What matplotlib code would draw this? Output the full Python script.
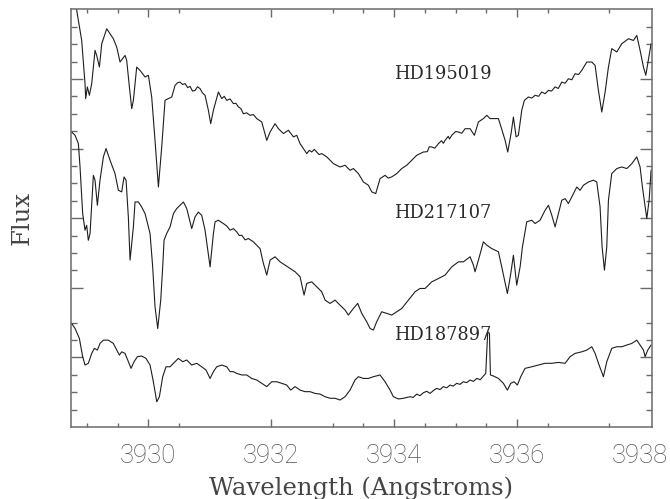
import matplotlib
matplotlib.use("Agg")
import matplotlib.pyplot as plt

# ---- data (wavelength in Angstroms, flux in arbitrary offset units) ----
hd195019_wave = [3928.791, 3928.835, 3928.916, 3928.970, 3928.981, 3929.008, 3929.041, 3929.079,
                 3929.133, 3929.160, 3929.204, 3929.242, 3929.323, 3929.431, 3929.486, 3929.540,
                 3929.621, 3929.648, 3929.692, 3929.730, 3929.757, 3929.811, 3929.865, 3929.947,
                 3930.001, 3930.055, 3930.109, 3930.164, 3930.218, 3930.272, 3930.326, 3930.381,
                 3930.435, 3930.476, 3930.516, 3930.557, 3930.598, 3930.640, 3930.679, 3930.720,
                 3930.760, 3930.800, 3930.842, 3930.880, 3930.923, 3930.977,
                 3931.015, 3931.059, 3931.140, 3931.194, 3931.235, 3931.276, 3931.330, 3931.384,
                 3931.425, 3931.466, 3931.505, 3931.547, 3931.600,
                 3931.655, 3931.710, 3931.764, 3931.845, 3931.927, 3931.981, 3932.062, 3932.117, 3932.198,
                 3932.279, 3932.361, 3932.415, 3932.469, 3932.578, 3932.620, 3932.659, 3932.700, 3932.740,
                 3932.780, 3932.822,
                 3932.903, 3933.012, 3933.119, 3933.201, 3933.282, 3933.336, 3933.418, 3933.499,
                 3933.580, 3933.635, 3933.700, 3933.770, 3933.852, 3933.905, 3933.960, 3934.042, 3934.123,
                 3934.204, 3934.286, 3934.367, 3934.475, 3934.540, 3934.570, 3934.611, 3934.660,
                 3934.720, 3934.770, 3934.800, 3934.828, 3934.880, 3934.900, 3934.937,
                 3935.000, 3935.045, 3935.100, 3935.154, 3935.235, 3935.305, 3935.371, 3935.452, 3935.506,
                 3935.560, 3935.642, 3935.696, 3935.739, 3935.805, 3935.848, 3935.902, 3935.940, 3935.984,
                 3936.021, 3936.076, 3936.119, 3936.184, 3936.240, 3936.293, 3936.350, 3936.401, 3936.455,
                 3936.510, 3936.560, 3936.618, 3936.670,
                 3936.727, 3936.780, 3936.835, 3936.890, 3936.944, 3937.000, 3937.052, 3937.134, 3937.215,
                 3937.269, 3937.323,
                 3937.378, 3937.432, 3937.486, 3937.540, 3937.622, 3937.703, 3937.812, 3937.893,
                 3937.947, 3938.001, 3938.056, 3938.094, 3938.148, 3938.180]
hd195019_flux = [24.70, 23.94, 22.21, 19.73, 18.87, 19.54, 19.06, 19.73,
                 21.64, 21.35, 20.68, 22.02, 22.88, 22.31, 21.83, 20.97,
                 21.35, 21.07, 19.54, 18.29, 18.77, 20.68, 20.49, 20.11,
                 20.21, 18.96, 16.47, 13.79, 16.09, 18.77, 18.87, 18.96,
                 19.63, 19.78, 19.82, 19.68, 19.73, 19.50, 19.57, 19.30,
                 19.34, 19.55, 19.44, 19.20, 19.06, 18.20,
                 17.43, 18.20, 19.25, 18.87, 19.00, 18.77, 18.85, 18.58,
                 18.60, 18.39, 18.30, 18.00, 18.05,
                 17.91, 17.95, 17.72, 17.53, 16.47, 16.95, 17.43, 17.14, 16.86,
                 17.05, 16.67, 16.76, 16.28, 15.71, 15.90, 15.80, 15.95, 15.80,
                 15.65, 15.71,
                 15.52, 15.13, 14.94, 15.04, 14.75, 14.85, 14.56, 14.08,
                 13.89, 13.51, 13.41, 14.27, 14.46, 14.30, 14.37, 14.56, 14.85,
                 15.04, 15.33, 15.61, 15.80, 15.82, 16.10, 16.09, 16.02,
                 16.28, 16.45, 16.30, 16.47, 16.70, 16.55, 16.76,
                 16.98, 16.95, 16.88, 17.14, 17.14, 16.76, 17.53, 17.72, 17.91,
                 17.72, 17.72, 17.72, 17.24, 16.47, 15.80, 16.86, 17.81, 16.67,
                 16.76, 18.20, 18.77, 18.96, 18.90, 19.06, 19.00, 19.25, 19.15,
                 19.34, 19.30, 19.54, 19.45,
                 19.82, 19.75, 20.01, 19.95, 20.30, 20.25, 20.49, 20.97, 20.97,
                 20.78, 19.34,
                 18.10, 19.25, 20.68, 21.74, 21.55, 22.02, 22.31, 22.21,
                 22.50, 21.64, 20.68, 20.21, 21.35, 22.02]

hd217107_wave = [3928.753, 3928.808, 3928.862, 3928.889, 3928.932, 3928.970, 3928.997, 3929.024,
                 3929.052, 3929.106, 3929.133, 3929.171, 3929.214, 3929.269, 3929.312, 3929.377,
                 3929.458, 3929.513, 3929.567, 3929.605, 3929.638, 3929.675, 3929.703, 3929.757,
                 3929.784, 3929.838, 3929.892, 3929.947, 3930.028, 3930.071, 3930.109, 3930.153,
                 3930.202, 3930.234, 3930.256, 3930.299, 3930.354, 3930.408, 3930.462, 3930.571,
                 3930.625, 3930.706, 3930.760, 3930.814, 3930.869, 3930.923, 3930.961, 3931.005,
                 3931.059, 3931.086, 3931.140, 3931.221, 3931.275, 3931.330, 3931.385, 3931.438,
                 3931.480, 3931.520, 3931.575, 3931.628,
                 3931.709, 3931.818, 3931.872, 3931.927, 3931.981, 3932.062, 3932.144, 3932.225,
                 3932.306, 3932.388, 3932.469, 3932.534, 3932.578, 3932.659, 3932.740, 3932.822,
                 3932.876, 3932.957, 3933.039, 3933.119, 3933.201, 3933.255, 3933.336, 3933.407,
                 3933.472, 3933.553, 3933.608, 3933.662, 3933.716, 3933.797, 3933.879, 3933.960,
                 3934.042, 3934.123, 3934.231, 3934.340, 3934.421, 3934.503, 3934.611, 3934.720,
                 3934.828, 3934.937, 3935.045, 3935.126, 3935.235, 3935.289, 3935.316, 3935.371,
                 3935.452, 3935.506, 3935.588, 3935.696, 3935.750, 3935.842, 3935.897, 3935.940,
                 3935.994, 3936.049, 3936.087, 3936.157, 3936.238, 3936.293, 3936.374, 3936.455,
                 3936.510, 3936.564, 3936.618, 3936.672, 3936.727, 3936.781, 3936.835, 3936.916,
                 3936.971, 3937.025, 3937.079, 3937.161, 3937.242, 3937.296, 3937.350, 3937.383,
                 3937.421, 3937.459, 3937.486, 3937.540, 3937.622, 3937.703, 3937.785, 3937.866,
                 3937.947, 3938.001, 3938.039, 3938.083, 3938.110, 3938.148, 3938.180]
hd217107_flux = [16.95, 16.76, 16.28, 14.94, 12.26, 11.31, 11.59, 10.73,
                 11.12, 14.46, 14.18, 12.74, 14.18, 15.52, 16.00, 15.33,
                 14.56, 13.60, 13.51, 14.37, 14.18, 12.07, 9.59, 11.50,
                 12.93, 12.93, 12.64, 12.26, 11.12, 9.20, 6.91, 5.66,
                 7.29, 9.20, 10.73, 11.12, 11.50, 12.26, 12.55, 12.93,
                 12.55, 11.40, 12.07, 12.35, 12.16, 11.31, 10.35, 9.20,
                 11.12, 11.79, 11.88, 11.69, 11.55, 11.31, 11.40, 11.21,
                 11.00, 11.02, 10.75, 10.83,
                 10.64, 10.25, 9.40, 8.73, 9.59, 9.78, 9.49, 9.30,
                 9.11, 8.92, 8.63, 7.58, 8.25, 8.34, 8.06, 7.77,
                 7.29, 7.10, 7.29, 7.00, 6.72, 6.43, 6.81, 7.10,
                 6.53, 6.05, 5.66, 5.57, 6.05, 6.62, 6.53, 6.43,
                 6.62, 6.81, 7.29, 7.77, 7.96, 7.96, 8.34, 8.53,
                 8.73, 9.20, 9.49, 9.49, 9.78, 9.30, 8.92, 9.59,
                 10.64, 10.45, 10.25, 10.07, 9.20, 7.67, 8.82, 9.87,
                 8.15, 9.20, 10.35, 11.79, 11.88, 11.69, 11.88, 12.45,
                 12.74, 12.17, 11.50, 12.26, 13.03, 13.12, 12.84, 13.41,
                 13.79, 13.60, 13.89, 14.08, 14.18, 14.08, 12.65, 10.35,
                 9.01, 10.35, 13.03, 14.56, 14.85, 14.94, 14.85, 15.13,
                 15.52, 14.94, 13.79, 12.65, 11.98, 13.03, 14.75]

hd187897_wave = [3928.753, 3928.808, 3928.878, 3928.932, 3928.970, 3929.024, 3929.079, 3929.122,
                 3929.171, 3929.214, 3929.269, 3929.350, 3929.431, 3929.486, 3929.529, 3929.567,
                 3929.621, 3929.665, 3929.719, 3929.768, 3929.822, 3929.892, 3929.963, 3930.028,
                 3930.082, 3930.137, 3930.180, 3930.234, 3930.288, 3930.354, 3930.408, 3930.489,
                 3930.560, 3930.625, 3930.706, 3930.787, 3930.869, 3930.939, 3931.005, 3931.059,
                 3931.113, 3931.194, 3931.276, 3931.330, 3931.384, 3931.438, 3931.520, 3931.601,
                 3931.682, 3931.764, 3931.845, 3931.927, 3932.008, 3932.089, 3932.171, 3932.252,
                 3932.317, 3932.388, 3932.469, 3932.551, 3932.632, 3932.713, 3932.795, 3932.876,
                 3932.957, 3933.039, 3933.119, 3933.201, 3933.282, 3933.363, 3933.418, 3933.499,
                 3933.580, 3933.662, 3933.770, 3933.852, 3933.933, 3933.987, 3934.069, 3934.150,
                 3934.258, 3934.310, 3934.367, 3934.420, 3934.475, 3934.530, 3934.584, 3934.640,
                 3934.692, 3934.745, 3934.801, 3934.855, 3934.909, 3934.960, 3935.018, 3935.070,
                 3935.126, 3935.180, 3935.235, 3935.290, 3935.343, 3935.400, 3935.452, 3935.490,
                 3935.522, 3935.550, 3935.566,
                 3935.615, 3935.696, 3935.777, 3935.842, 3935.897, 3935.951, 3936.005, 3936.059,
                 3936.130, 3936.238, 3936.347, 3936.455, 3936.564, 3936.672, 3936.781, 3936.862,
                 3936.944, 3937.052, 3937.134, 3937.215, 3937.269, 3937.334, 3937.405, 3937.459,
                 3937.540, 3937.622, 3937.703, 3937.785, 3937.866, 3937.947, 3938.001, 3938.056,
                 3938.083, 3938.126, 3938.180]
hd187897_flux = [5.95, 5.66, 5.09, 4.04, 3.56, 3.66, 4.23, 4.52,
                 4.42, 4.80, 4.99, 4.99, 4.80, 4.42, 4.13, 4.32,
                 4.23, 3.85, 3.37, 3.75, 4.04, 4.08, 3.94, 3.56,
                 2.60, 1.45, 1.74, 2.89, 3.46, 3.46, 3.66, 3.94,
                 3.75, 3.85, 3.56, 3.66, 3.46, 3.27, 2.79, 3.18,
                 3.46, 3.56, 3.46, 3.18, 3.18, 3.08, 2.99, 2.99,
                 2.79, 2.70, 2.51, 2.32, 2.60, 2.60, 2.51, 2.41,
                 2.12, 2.32, 2.12, 2.03, 2.03, 1.93, 1.89, 1.74,
                 1.65, 1.65, 1.55, 1.74, 2.12, 2.70, 2.89, 2.79,
                 2.79, 2.89, 2.99, 2.60, 2.12, 1.74, 1.61, 1.65,
                 1.74, 1.70, 1.89, 1.80, 1.97, 2.05, 1.93, 2.10,
                 2.22, 2.15, 2.32, 2.25, 2.41, 2.35, 2.51, 2.45,
                 2.60, 2.55, 2.70, 2.62, 2.79, 2.72, 2.93, 3.08,
                 5.47, 5.38, 2.99,
                 2.93, 2.79, 2.51, 2.12, 2.51, 2.60, 2.41, 2.89,
                 3.37, 3.46, 3.56, 3.66, 3.66, 3.71, 3.66, 4.04,
                 4.23, 4.32, 4.42, 4.61, 4.23, 3.56, 2.89, 3.75,
                 4.52, 4.61, 4.61, 4.71, 4.80, 4.99, 4.71, 4.42,
                 4.04, 4.42, 4.71]

star_names = ["HD195019", "HD217107", "HD187897"]
label_wave = [3934.0, 3934.0, 3934.0]
label_flux = [20.26, 12.28, 5.28]

x_tick_values = [3930, 3932, 3934, 3936, 3938]
x_tick_labels = ["3930", "3932", "3934", "3936", "3938"]
x_minor_values = [3929, 3929.5, 3930.5, 3933, 3933.5, 3934.5, 3935, 3935.5, 3936.5, 3937.5]
y_major_values = [4, 8, 12, 16, 20]
y_minor_values = [1, 2, 3, 5, 6, 9, 10, 11, 13, 14, 15, 17, 18, 19, 21, 22, 23]

# ---- figure ----
fig = plt.figure(figsize=(6.70, 4.99), dpi=100)
ax = fig.add_axes([71 / 670, 1 - 427 / 499, 580.7 / 670, 417.7 / 499])

line_color = "#1e1e1e"
for w, f in [(hd195019_wave, hd195019_flux), (hd217107_wave, hd217107_flux),
             (hd187897_wave, hd187897_flux)]:
    ax.plot(w, f, color=line_color, lw=0.8)

for name, lw_, lf in zip(star_names, label_wave, label_flux):
    ax.text(lw_, lf, name, family="DejaVu Serif", fontsize=12.8, color="#2a2a2a",
            ha="left", va="center")

ax.set_xlim(3928.742, 3938.19)
ax.set_ylim(0, 24)

spine_color = "#6a6a6a"
for s in ax.spines.values():
    s.set_color(spine_color)
    s.set_linewidth(1.1)

ax.set_xticks(x_tick_values)
ax.set_xticklabels(x_tick_labels)
ax.set_xticks(x_minor_values, minor=True)
ax.set_yticks(y_major_values)
ax.set_yticks(y_minor_values, minor=True)
ax.set_yticklabels([])

ax.tick_params(axis="x", which="major", direction="in", length=5.8, width=1.0,
               color=spine_color, top=True, bottom=True, pad=12, labelsize=18.5,
               labelcolor="#555555")
ax.tick_params(axis="x", which="minor", direction="in", length=3.2, width=1.0,
               color=spine_color, top=True, bottom=True)
ax.tick_params(axis="y", which="major", direction="in", length=8.6, width=1.0,
               color=spine_color, left=True, right=True)
ax.tick_params(axis="y", which="minor", direction="in", length=4.3, width=1.0,
               color=spine_color, left=True, right=True)

for lab in ax.get_xticklabels():
    lab.set_fontfamily("Roboto")
    lab.set_fontweight("light")

# no tick mark at 3938 in the reference
last = ax.xaxis.get_major_ticks()[-1]
last.tick1line.set_visible(False)
last.tick2line.set_visible(False)

ax.set_xlabel("Wavelength (Angstroms)", family="DejaVu Serif", fontsize=17.5,
              color="#444444", va="center")
ax.xaxis.set_label_coords(0.4994, -0.146)
ax.set_ylabel("Flux", family="DejaVu Serif", fontsize=17.5, color="#444444",
              va="center")
ax.yaxis.set_label_coords(-0.0844, 0.5)

fig.savefig("out.png", dpi=100)
